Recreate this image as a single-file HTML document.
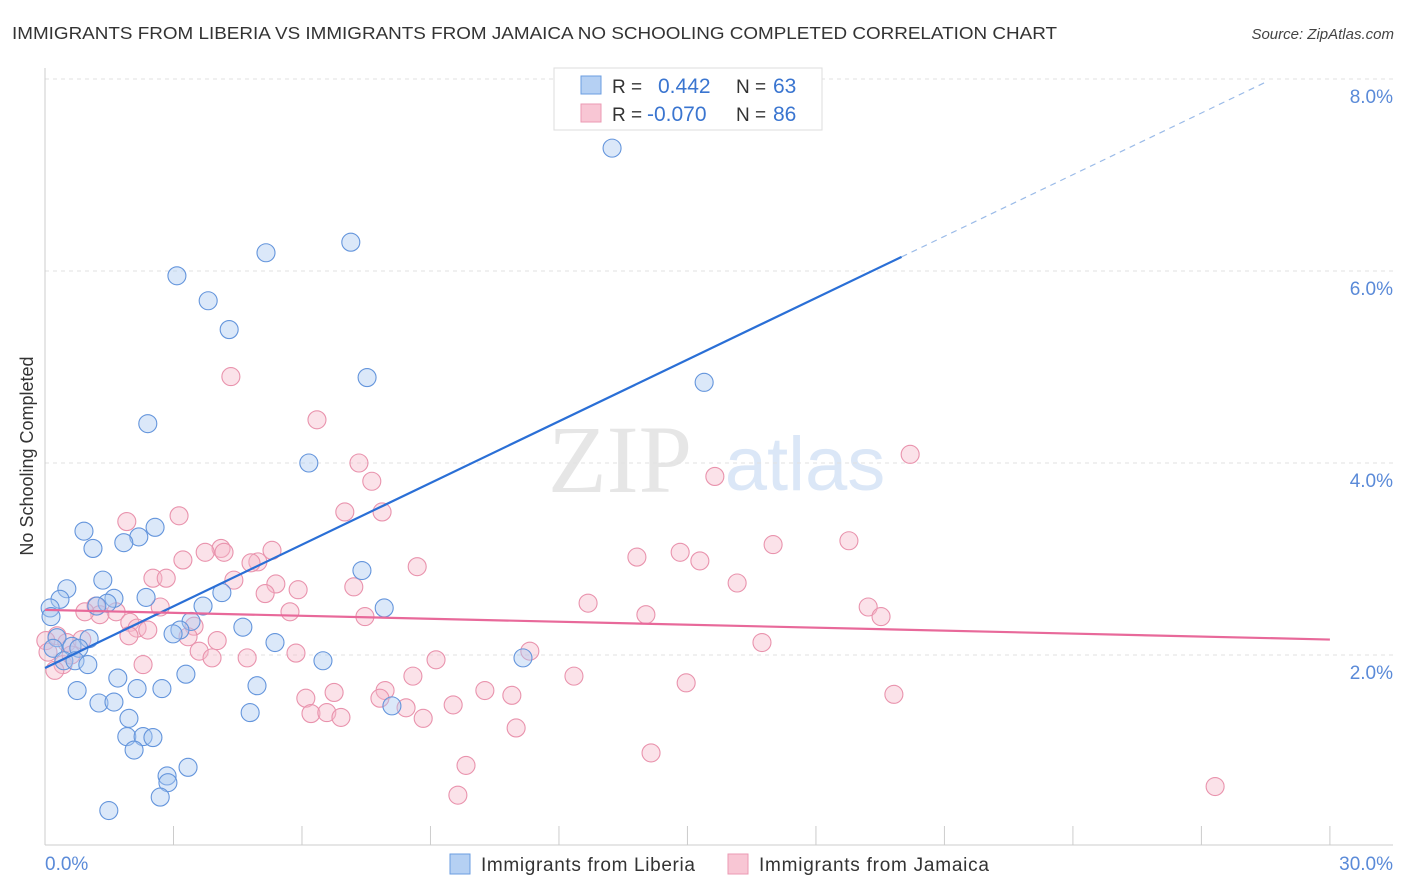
<!DOCTYPE html>
<html><head><meta charset="utf-8"><style>
body{margin:0;background:#fff;font-family:"Liberation Sans",sans-serif;}
svg{display:block}
</style></head><body>
<svg id="c" width="1406" height="892">
<text x="12" y="39" font-size="17.5" fill="#333" textLength="1045" lengthAdjust="spacingAndGlyphs">IMMIGRANTS FROM LIBERIA VS IMMIGRANTS FROM JAMAICA NO SCHOOLING COMPLETED CORRELATION CHART</text>
<text x="1394" y="39" font-size="15" fill="#444" font-style="italic" text-anchor="end">Source: ZipAtlas.com</text>
<text transform="translate(33,456) rotate(-90)" font-size="18" fill="#333" text-anchor="middle">No Schooling Completed</text>
<text x="620" y="492" font-size="96" fill="#e6e6e6" font-family="Liberation Serif" text-anchor="middle">ZIP</text>
<text x="805" y="490" font-size="76" fill="#dbe7f7" text-anchor="middle">atlas</text>
<g id="grid"></g><g id="axes"></g><g id="pink"></g><g id="blue"></g><g id="lines"></g>
<g>
<rect x="554" y="68" width="268" height="62" fill="#fff" stroke="#ddd"/>
<rect x="581" y="76" width="20" height="18" fill="#b5d0f3" stroke="#6b9ee0"/>
<rect x="581" y="104" width="20" height="18" fill="#f8c6d4" stroke="#eb9ab3"/>
<text x="612" y="93" font-size="19" fill="#333">R = </text><text x="658" y="93" font-size="21" fill="#3a75d0">0.442</text>
<text x="736" y="93" font-size="19" fill="#333">N = </text><text x="773" y="93" font-size="21" fill="#3a75d0">63</text>
<text x="612" y="121" font-size="19" fill="#333">R = </text><text x="647" y="121" font-size="21" fill="#3a75d0">-0.070</text>
<text x="736" y="121" font-size="19" fill="#333">N = </text><text x="773" y="121" font-size="21" fill="#3a75d0">86</text>
</g>
<g>
<rect x="450" y="854" width="20" height="20" fill="#b5d0f3" stroke="#6b9ee0"/>
<text x="481" y="871" font-size="19" fill="#333" textLength="214">Immigrants from Liberia</text>
<rect x="728" y="854" width="20" height="20" fill="#f8c6d4" stroke="#eb9ab3"/>
<text x="759" y="871" font-size="19" fill="#333" textLength="230">Immigrants from Jamaica</text>
</g>
</svg>
<script>
const blueX=[13.24,7.14,5.16,3.08,3.81,4.30,7.52,15.39,2.40,6.16,0.91,2.57,1.12,2.19,1.84,7.40,1.35,0.51,0.35,1.61,1.45,2.36,1.21,0.12,3.69,4.13,7.92,0.14,3.41,3.15,2.99,4.62,0.28,5.37,1.03,0.63,0.79,0.19,0.44,0.70,1.00,6.49,11.16,1.70,3.29,4.95,0.75,2.15,2.73,1.26,1.61,8.10,4.79,1.96,1.91,2.29,2.52,2.08,3.34,2.85,2.87,2.69,1.49];
const blueY=[7.28,6.30,6.19,5.95,5.69,5.39,4.89,4.84,4.41,4.00,3.29,3.33,3.11,3.23,3.17,2.88,2.78,2.69,2.58,2.59,2.54,2.60,2.51,2.49,2.51,2.65,2.49,2.40,2.35,2.26,2.22,2.29,2.18,2.13,2.17,2.09,2.07,2.07,1.94,1.94,1.90,1.94,1.97,1.76,1.80,1.68,1.63,1.65,1.65,1.50,1.51,1.47,1.40,1.34,1.15,1.15,1.14,1.01,0.83,0.74,0.67,0.52,0.38];
const pinkX=[4.34,6.35,20.20,7.33,15.64,7.63,7.00,7.87,1.91,3.13,4.11,4.18,3.22,3.74,5.30,4.97,4.81,13.82,14.83,15.29,17.00,18.77,8.69,2.52,2.83,4.41,5.39,5.91,7.21,5.14,16.16,12.68,2.69,1.19,5.72,7.47,14.03,19.22,19.52,1.66,1.98,1.28,2.15,2.40,3.48,3.34,4.02,1.96,16.74,0.28,0.51,0.86,0.02,11.32,3.60,3.90,4.72,5.86,9.13,2.29,0.42,0.23,8.59,12.35,14.97,10.27,6.09,6.75,7.94,10.90,7.82,19.82,9.53,8.43,6.21,6.58,6.91,8.83,11.00,14.15,9.83,9.64,27.32,0.93,0.07,0.61];
const pinkY=[4.90,4.45,4.09,4.00,3.86,3.81,3.49,3.49,3.39,3.45,3.11,3.07,2.99,3.07,3.09,2.97,2.96,3.02,3.07,2.98,3.15,3.19,2.92,2.80,2.80,2.78,2.74,2.68,2.71,2.64,2.75,2.54,2.50,2.51,2.45,2.40,2.42,2.50,2.40,2.45,2.34,2.42,2.28,2.26,2.30,2.19,2.15,2.20,2.13,2.20,2.13,2.16,2.15,2.04,2.04,1.97,1.97,2.02,1.95,1.90,1.90,1.84,1.78,1.78,1.71,1.63,1.55,1.61,1.63,1.58,1.55,1.59,1.48,1.45,1.39,1.40,1.35,1.34,1.24,0.98,0.85,0.54,0.63,2.45,2.03,2.00];
const yTicks=[2,4,6,8];
const yTickLabels=["2.0%","4.0%","6.0%","8.0%"];
const xTicks=[0,3,6,9,12,15,18,21,24,27,30];
const blueFit=[1.865,0.2141];
const pinkFit=[2.47,-0.0103];
const NS="http://www.w3.org/2000/svg";
const sx=v=>45+v*42.83, sy=v=>847-v*96;
function mk(t,a,p){const e=document.createElementNS(NS,t);for(const k in a)e.setAttribute(k,a[k]);p.appendChild(e);return e;}
const grid=document.getElementById('grid'),axes=document.getElementById('axes');
yTicks.forEach((t,i)=>{
 const l=mk('line',{x1:45,x2:1393,y1:sy(t),y2:sy(t),stroke:'#e2e2e2','stroke-dasharray':'4,4'},grid);
 
 
 const tx=mk('text',{x:1393,y:sy(t)+24,'font-size':19,fill:'#5a8ad8','text-anchor':'end'},axes);
 tx.textContent=yTickLabels[i];
 
 
});
const ax=mk('line',{x1:45,x2:1393,y1:845,y2:845,stroke:'#ccc'},axes);


const ay=mk('line',{x1:45,x2:45,y1:68,y2:845,stroke:'#ccc'},axes);


xTicks.forEach(t=>{const l=mk('line',{x1:sx(t),x2:sx(t),y1:826,y2:845,stroke:'#ccc'},axes);
 
 });
const x0=mk('text',{x:45,y:870,'font-size':19,fill:'#5a8ad8'},axes);x0.textContent='0.0%';


const x1=mk('text',{x:1393,y:870,'font-size':19,fill:'#5a8ad8','text-anchor':'end'},axes);x1.textContent='30.0%';


function dots(X,Y,g,fill,stroke,name){X.forEach((x,i)=>{const c=mk('circle',{cx:sx(x),cy:sy(Y[i]),r:9,fill:fill,'fill-opacity':0.42,stroke:stroke,'stroke-width':1.1},g);
 
 });}
dots(pinkX,pinkY,document.getElementById('pink'),'#f6b9cb','#e993ad','jamaica-point');
dots(blueX,blueY,document.getElementById('blue'),'#aac9f1','#6495dc','liberia-point');
const lg=document.getElementById('lines');
const bl=mk('line',{x1:sx(0),y1:sy(blueFit[0]),x2:sx(20),y2:sy(blueFit[0]+20*blueFit[1]),stroke:'#2a6fd6','stroke-width':2.2},lg);


const bd=mk('line',{x1:sx(20),y1:sy(blueFit[0]+20*blueFit[1]),x2:sx(28.5),y2:sy(blueFit[0]+28.5*blueFit[1]),stroke:'#9bbbe8','stroke-width':1.2,'stroke-dasharray':'6,5'},lg);


const pl=mk('line',{x1:sx(0),y1:sy(pinkFit[0]),x2:sx(30),y2:sy(pinkFit[0]+30*pinkFit[1]),stroke:'#e8699a','stroke-width':2.2},lg);


</script>
</body></html>
